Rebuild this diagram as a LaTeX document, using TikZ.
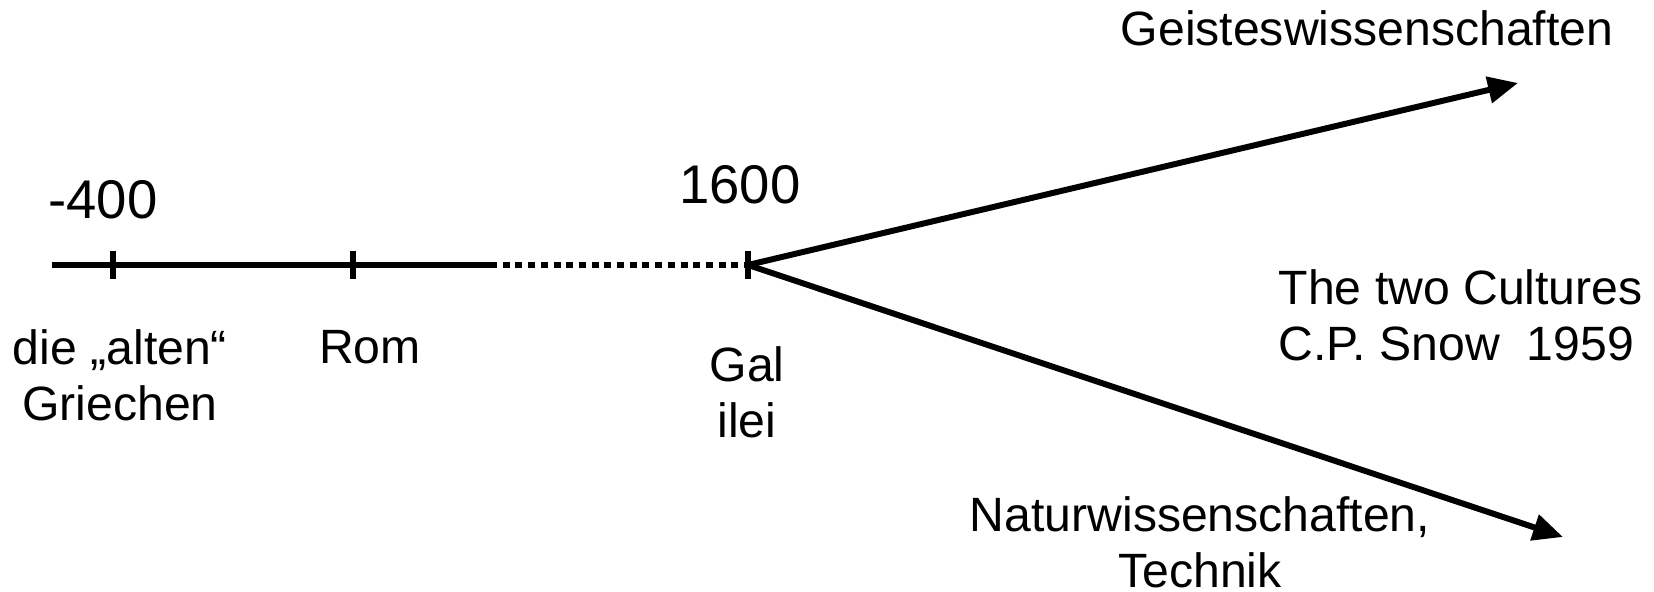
\documentclass[tikz,border=0pt]{standalone}
\usepackage{fontspec}
\setmainfont{Liberation Sans}
\usetikzlibrary{arrows.meta}

\begin{document}
\begin{tikzpicture}[>={Triangle[length=0.3cm,width=0.26cm]},lbl/.style={inner sep=0pt,align=center,font=\fontsize{13.7}{15.9}\selectfont},biglbl/.style={lbl,font=\fontsize{15.5}{18}\selectfont},axis/.style={line width=1.7pt},dots/.style={line width=1.7pt,dash pattern=on 0.07cm off 0.057cm},tickmark/.style={line width=1.6pt},arrow/.style={->,line width=1.7pt}]
\useasboundingbox (0,0) rectangle (16.54,5.92);
% time line
\coordinate (start) at (0.52,3.27); \coordinate (greek) at (1.13,3.27); \coordinate (rome) at (3.53,3.27);
\coordinate (gap) at (4.90,3.27); \coordinate (gal) at (7.48,3.27);
\draw[axis] (start)--(gap); \draw[dots] (gap)--(gal);
\draw[tickmark] (greek) ++(0,0.14)--++(0,-0.28); \draw[tickmark] (rome) ++(0,0.14)--++(0,-0.28); \draw[tickmark] (gal) ++(0,0.14)--++(0,-0.28);
% split
\coordinate (geist) at (15.18,5.09); \coordinate (natur) at (15.63,0.55);
\draw[arrow] (gal)--(geist); \draw[arrow] (gal)--(natur);
% labels
\node[biglbl,anchor=base] (minus) at (1.03,3.73) {-400}; \node[biglbl,anchor=base] (year) at (7.40,3.88) {1600};
\node[lbl,anchor=north] (griechen) at (1.20,2.63) {die „alten“\\Griechen}; \node[lbl,anchor=base] (rom) at (3.70,2.28) {Rom};
\node[lbl,anchor=north] (galilei) at (7.47,2.46) {Gal\\ilei};
\node[lbl,anchor=base] (geistlbl) at (13.67,5.46) {Geisteswissenschaften};
\node[lbl,anchor=north west,align=left] (snow) at (12.78,3.23) {The two Cultures\\C.P. Snow~~1959};
\node[lbl,anchor=north] (naturlbl) at (12.00,0.96) {Naturwissenschaften,\\Technik};
\end{tikzpicture}
\end{document}
